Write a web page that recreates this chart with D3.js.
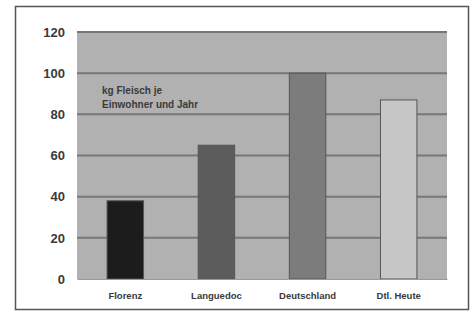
<!DOCTYPE html>
<html>
<head>
<meta charset="utf-8">
<script src="https://cdn.jsdelivr.net/npm/d3@7"></script>
<style>
  body { margin: 0; background: #fff; }
  svg { display: block; font-family: "Liberation Sans", Arial, sans-serif; }
</style>
</head>
<body>
<div id="chart"></div>
<script>
// data
var categories = ["Florenz", "Languedoc", "Deutschland", "Dtl. Heute"];
var values = [38, 65, 100, 87];
var barColors = ["#1c1c1c", "#5c5c5c", "#7c7c7c", "#c6c6c6"];
var yTicks = [0, 20, 40, 60, 80, 100, 120];
var noteLines = ["kg Fleisch je", "Einwohner und Jahr"];

var svgWidth = 475;
var svgHeight = 311;

var margin = { top: 32, right: 28, bottom: 32, left: 77 };
var chartWidth = svgWidth - margin.left - margin.right;
var chartHeight = svgHeight - margin.top - margin.bottom;

var svg = d3.select("#chart")
  .append("svg")
  .attr("width", svgWidth)
  .attr("height", svgHeight);

// outer frame
svg.append("rect")
  .attr("x", 15.5)
  .attr("y", 6.5)
  .attr("width", 453)
  .attr("height", 303)
  .attr("fill", "#fff")
  .attr("stroke", "#555")
  .attr("stroke-width", 1.5);

var chartGroup = svg.append("g")
  .attr("transform", `translate(${margin.left}, ${margin.top})`);

var xScale = d3.scaleBand()
  .domain(categories)
  .range([0, chartWidth])
  .paddingInner(0.6)
  .paddingOuter(0.33);

var yScale = d3.scaleLinear()
  .domain([0, 120])
  .range([chartHeight, 0]);

// plot background
chartGroup.append("rect")
  .attr("width", chartWidth)
  .attr("height", chartHeight)
  .attr("fill", "#b1b1b1");

// gridlines
chartGroup.selectAll(".grid")
  .data(yTicks.filter(d => d > 0))
  .enter()
  .append("line")
  .attr("x1", 0)
  .attr("x2", chartWidth)
  .attr("y1", d => yScale(d))
  .attr("y2", d => yScale(d))
  .attr("stroke", "#777")
  .attr("stroke-width", 2);

// bars
chartGroup.selectAll(".bar")
  .data(values)
  .enter()
  .append("rect")
  .attr("x", (d, i) => xScale(categories[i]))
  .attr("y", d => yScale(d))
  .attr("width", xScale.bandwidth())
  .attr("height", d => chartHeight - yScale(d))
  .attr("fill", (d, i) => barColors[i])
  .attr("stroke", "#555")
  .attr("stroke-width", 1);

// y axis
var leftAxis = d3.axisLeft(yScale).tickValues(yTicks).tickSize(0).tickPadding(12);
var yAxis = chartGroup.append("g").call(leftAxis);
yAxis.select(".domain").remove();
yAxis.selectAll("text")
  .attr("font-size", 13)
  .attr("font-weight", "bold")
  .attr("fill", "#3a3a3a")
  .attr("font-family", "\"Liberation Sans\", Arial, sans-serif");

// x axis
var bottomAxis = d3.axisBottom(xScale).tickSize(0).tickPadding(13);
var xAxis = chartGroup.append("g")
  .attr("transform", `translate(0, ${chartHeight})`)
  .call(bottomAxis);
xAxis.select(".domain").attr("stroke", "#999");
xAxis.selectAll("text")
  .attr("font-size", 9.5)
  .attr("font-weight", "bold")
  .attr("fill", "#3a3a3a")
  .attr("font-family", "\"Liberation Sans\", Arial, sans-serif");

// note text
chartGroup.append("text")
  .attr("x", 25)
  .attr("y", 62)
  .attr("font-size", 10)
  .attr("font-weight", "bold")
  .attr("fill", "#3a3a3a")
  .selectAll("tspan")
  .data(noteLines)
  .enter()
  .append("tspan")
  .attr("x", 25)
  .attr("dy", (d, i) => i === 0 ? 0 : 14)
  .text(d => d);
</script>
</body>
</html>
